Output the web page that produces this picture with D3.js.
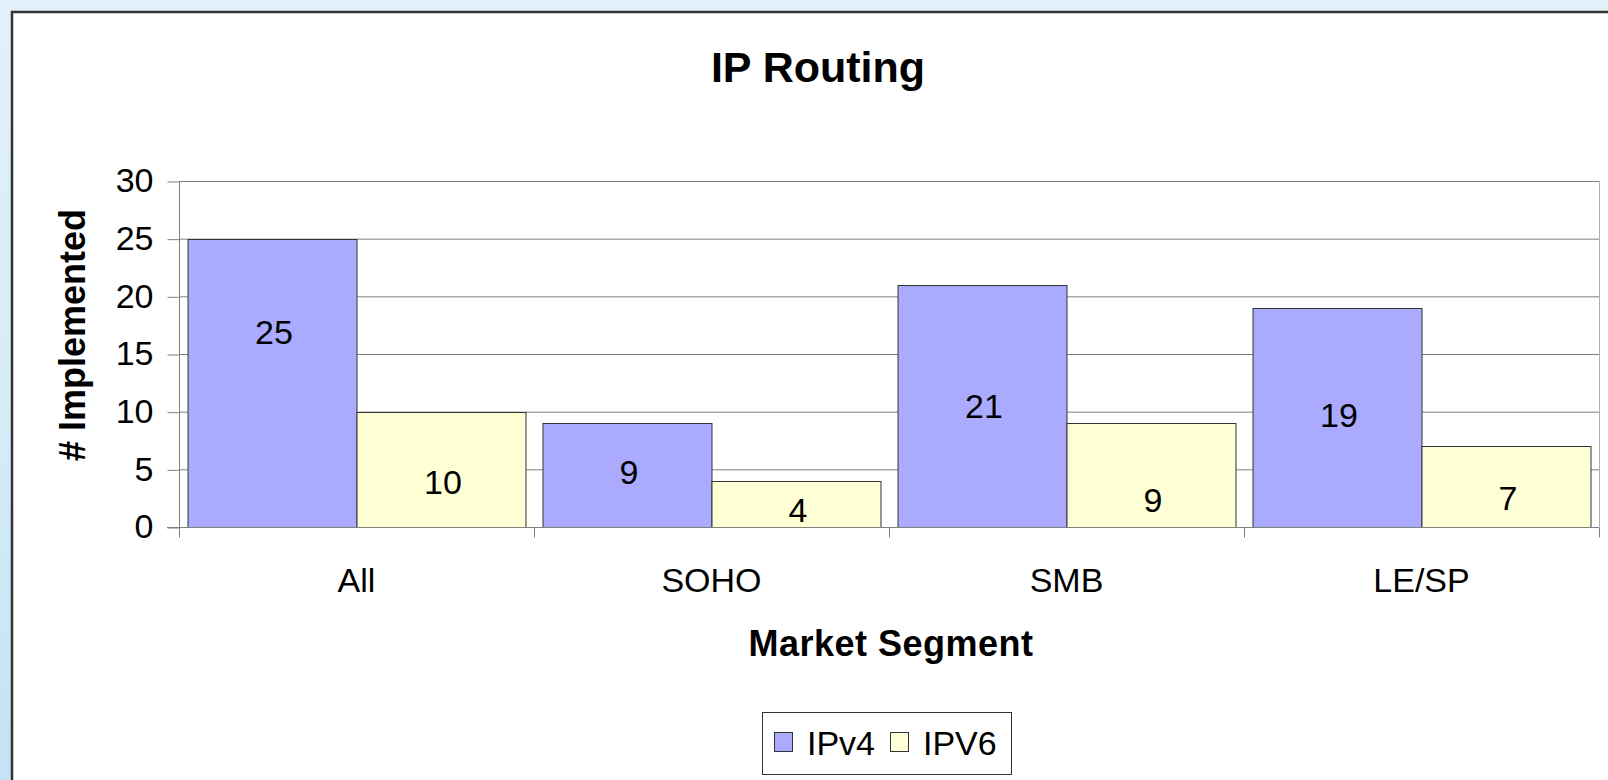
<!DOCTYPE html>
<meta charset="utf-8">
<style>
  html, body {
    margin: 0;
    padding: 0;
  }

  body {
    width: 1608px;
    height: 780px;
    overflow: hidden;
    background: linear-gradient(180deg, #e2f1f9 0%, #d4ebf7 60%, #c3e2f3 100%);
  }

  svg {
    display: block;
    font-family: "Liberation Sans", Arial, sans-serif;
  }

  .grid line {
    stroke: #808080;
    stroke-width: 1px;
  }

  .axis path,
  .axis line {
    stroke: #808080;
    stroke-width: 1px;
  }

  .axis text {
    fill: #000;
    font-size: 34px;
  }

  .bar {
    stroke: #333;
    stroke-width: 1px;
  }
</style>

<body>
  <svg width="1608" height="780"></svg>
</body>

<script src="https://d3js.org/d3.v7.min.js"></script>
<script>
  // data
  var categories = ["All", "SOHO", "SMB", "LE/SP"];
  var seriesNames = ["IPv4", "IPV6"];
  var ipv4 = [25, 9, 21, 19];
  var ipv6 = [10, 4, 9, 7];
  // where each value label sits, in axis units (labels were dragged around in the original)
  var ipv4LabelAt = [16.9, 4.8, 10.5, 9.7];
  var ipv6LabelAt = [3.9, 1.5, 2.35, 2.5];
  var yTicks = [0, 5, 10, 15, 20, 25, 30];

  var colors = ["#aaabff", "#ffffd6"];

  var svg = d3.select("svg");

  // white chart frame (runs off the right/bottom edge like the slide)
  svg.append("rect")
    .attr("x", 12)
    .attr("y", 12)
    .attr("width", 1640)
    .attr("height", 800)
    .attr("fill", "#fff")
    .attr("stroke", "#333")
    .attr("stroke-width", 2.5);

  var margin = { left: 179, right: 1599, top: 181, bottom: 527 };
  var width = margin.right - margin.left;

  var x0 = d3.scaleBand()
    .domain(categories)
    .range([margin.left, margin.right])
    .paddingInner(0.048)
    .paddingOuter(0.024);

  var x1 = d3.scaleBand()
    .domain(seriesNames)
    .range([0, x0.bandwidth()]);

  var y = d3.scaleLinear()
    .domain([0, 30])
    .range([margin.bottom, margin.top]);

  // gridlines
  svg.append("g")
    .attr("class", "grid")
    .attr("transform", "translate(" + margin.left + ",0)")
    .call(d3.axisLeft(y).tickValues(yTicks.slice(1)).tickSize(-width).tickFormat(""))
    .call(function(g) { g.select(".domain").remove(); });

  // right edge of plot
  svg.append("line")
    .attr("x1", margin.right + 0.5)
    .attr("x2", margin.right + 0.5)
    .attr("y1", margin.top)
    .attr("y2", margin.bottom)
    .attr("stroke", "#b0b0b0");

  var rows = categories.map(function(c, i) {
    return [
      { cat: c, s: seriesNames[0], v: ipv4[i], at: ipv4LabelAt[i] },
      { cat: c, s: seriesNames[1], v: ipv6[i], at: ipv6LabelAt[i] }
    ];
  });

  var group = svg.append("g")
    .selectAll("g")
    .data(rows)
    .enter().append("g")
    .attr("transform", function(d) { return "translate(" + x0(d[0].cat) + ",0)"; });

  group.selectAll("rect")
    .data(function(d) { return d; })
    .enter().append("rect")
    .attr("class", "bar")
    .attr("x", function(d) { return x1(d.s) + 0.5; })
    .attr("y", function(d) { return Math.round(y(d.v)) + 0.5; })
    .attr("width", x1.bandwidth())
    .attr("height", function(d) { return Math.round(y(0)) - Math.round(y(d.v)); })
    .attr("fill", function(d, i) { return colors[i]; });

  group.selectAll("text")
    .data(function(d) { return d; })
    .enter().append("text")
    .attr("x", function(d) { return x1(d.s) + x1.bandwidth() / 2 + 2; })
    .attr("y", function(d) { return y(d.at); })
    .attr("dy", "0.36em")
    .attr("text-anchor", "middle")
    .attr("font-size", 34)
    .text(function(d) { return d.v; });

  // y axis
  svg.append("g")
    .attr("class", "axis")
    .attr("transform", "translate(" + (margin.left + 0.5) + ",0)")
    .call(d3.axisLeft(y).tickValues(yTicks).tickSize(12).tickPadding(14).tickSizeOuter(0))
    .call(function(g) {
      g.selectAll(".tick line").attr("transform", "translate(0,0.5)");
      g.select(".domain").attr("d", "M0," + margin.top + "V" + (margin.bottom + 10));
    });

  // x axis
  var xAxis = svg.append("g")
    .attr("class", "axis")
    .attr("transform", "translate(0," + (margin.bottom + 0.5) + ")");

  xAxis.append("line")
    .attr("x1", margin.left - 12)
    .attr("x2", margin.right)
    .attr("stroke", "#808080");

  var boundaries = d3.range(categories.length + 1).map(function(i) {
    return margin.left + i * x0.step();
  });

  xAxis.selectAll(".cat-tick")
    .data(boundaries)
    .enter().append("line")
    .attr("class", "cat-tick")
    .attr("x1", function(d) { return Math.round(d) + 0.5; })
    .attr("x2", function(d) { return Math.round(d) + 0.5; })
    .attr("y1", 0)
    .attr("y2", 10)
    .attr("stroke", "#808080");

  xAxis.selectAll(".cat-label")
    .data(categories)
    .enter().append("text")
    .attr("class", "cat-label")
    .attr("x", function(d) { return x0(d) + x0.bandwidth() / 2; })
    .attr("y", 64)
    .attr("text-anchor", "middle")
    .attr("font-size", 34)
    .text(function(d) { return d; });

  // titles
  svg.append("text")
    .attr("x", 818)
    .attr("y", 82)
    .attr("text-anchor", "middle")
    .attr("font-size", 43)
    .attr("font-weight", "bold")
    .text("IP Routing");

  svg.append("text")
    .attr("transform", "translate(85,335) rotate(-90)")
    .attr("text-anchor", "middle")
    .attr("font-size", 36)
    .attr("font-weight", "bold")
    .text("# Implemented");

  svg.append("text")
    .attr("x", 891)
    .attr("y", 656)
    .attr("text-anchor", "middle")
    .attr("font-size", 36)
    .attr("font-weight", "bold")
    .attr("letter-spacing", "0.5px")
    .text("Market Segment");

  // legend
  var legend = svg.append("g").attr("transform", "translate(762,712)");

  legend.append("rect")
    .attr("x", 0.5)
    .attr("y", 0.5)
    .attr("width", 249)
    .attr("height", 62)
    .attr("fill", "#fff")
    .attr("stroke", "#333");

  var legendOffsets = [12, 128];

  var item = legend.selectAll(".item")
    .data(seriesNames)
    .enter().append("g")
    .attr("class", "item")
    .attr("transform", function(d, i) { return "translate(" + legendOffsets[i] + ",0)"; });

  item.append("rect")
    .attr("x", 0.5)
    .attr("y", 20.5)
    .attr("width", 18)
    .attr("height", 19)
    .attr("fill", function(d, i) { return colors[i]; })
    .attr("stroke", "#333");

  item.append("text")
    .attr("x", 33)
    .attr("y", 43)
    .attr("font-size", 34)
    .text(function(d) { return d; });
</script>

</body>

</html>
